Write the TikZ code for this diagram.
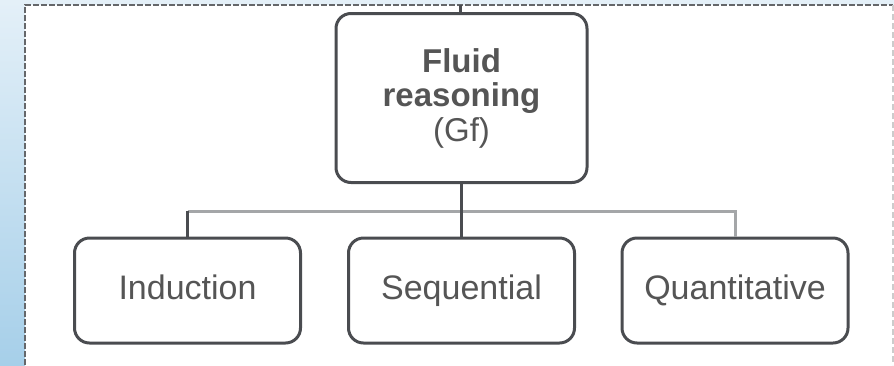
\documentclass[tikz,border=0pt]{standalone}
\usepackage{fontspec}
\setmainfont{Liberation Sans}
\usepackage{xcolor}
\usetikzlibrary{positioning}

\definecolor{edge}{HTML}{4A4C50}
\definecolor{txt}{HTML}{555555}
\definecolor{barg}{HTML}{A4A6A8}
\definecolor{skytop}{HTML}{E4F0F8}
\definecolor{skybot}{HTML}{A6CFE9}

\begin{document}
\begin{tikzpicture}[x=1pt, y=-1pt,
    box/.style={draw=edge, line width=3pt, rounded corners=15pt, fill=white,
      text=txt, align=center, inner sep=0pt},
    parentbox/.style={box, minimum width=251, minimum height=169,
      font=\fontsize{33}{34.5}\selectfont},
    childbox/.style={box, minimum width=226, minimum height=105,
      text height=24pt, text depth=7pt, font=\fontsize{34}{38}\selectfont},
    link/.style={draw=edge, line width=3pt},
    barlink/.style={draw=barg, line width=3pt}]
  \useasboundingbox (0,0) rectangle (894,365);

  % Background strips and dashed frame
  \fill[top color=skytop, bottom color=skybot] (0,0) rectangle (25,365);
  \fill[skytop] (0,0) rectangle (894,5);
  \draw[edge!85, line width=2pt, dash pattern=on 6pt off 2pt] (25,365) -- (25,5) -- (893,5);
  \draw[black!20, line width=1.5pt, dash pattern=on 6pt off 3pt] (893,5) -- (893,365);

  % Parent box
  \node[parentbox] (gf) at (461.5,98)
    {\textbf{Fluid}\\\textbf{reasoning}\\(Gf)};

  % Child boxes
  \node[childbox] (ind) at (187.5,290.5) {Induction};
  \node[childbox] (seq) at (461.5,290.5) {Sequential};
  \node[childbox] (qt)  at (735,290.5) {Quantitative};

  % Connectors
  \coordinate (up) at (460,5);
  \coordinate (barl) at (187.5,211);
  \coordinate (barr) at (735,211);
  \draw[link] (up) -- (gf.north -| up);
  \draw[barlink] (barl) -- (barr) -- (qt.north);
  \draw[link] (gf.south) -- (seq.north);
  \draw[link] (barl) -- (ind.north);
\end{tikzpicture}
\end{document}
